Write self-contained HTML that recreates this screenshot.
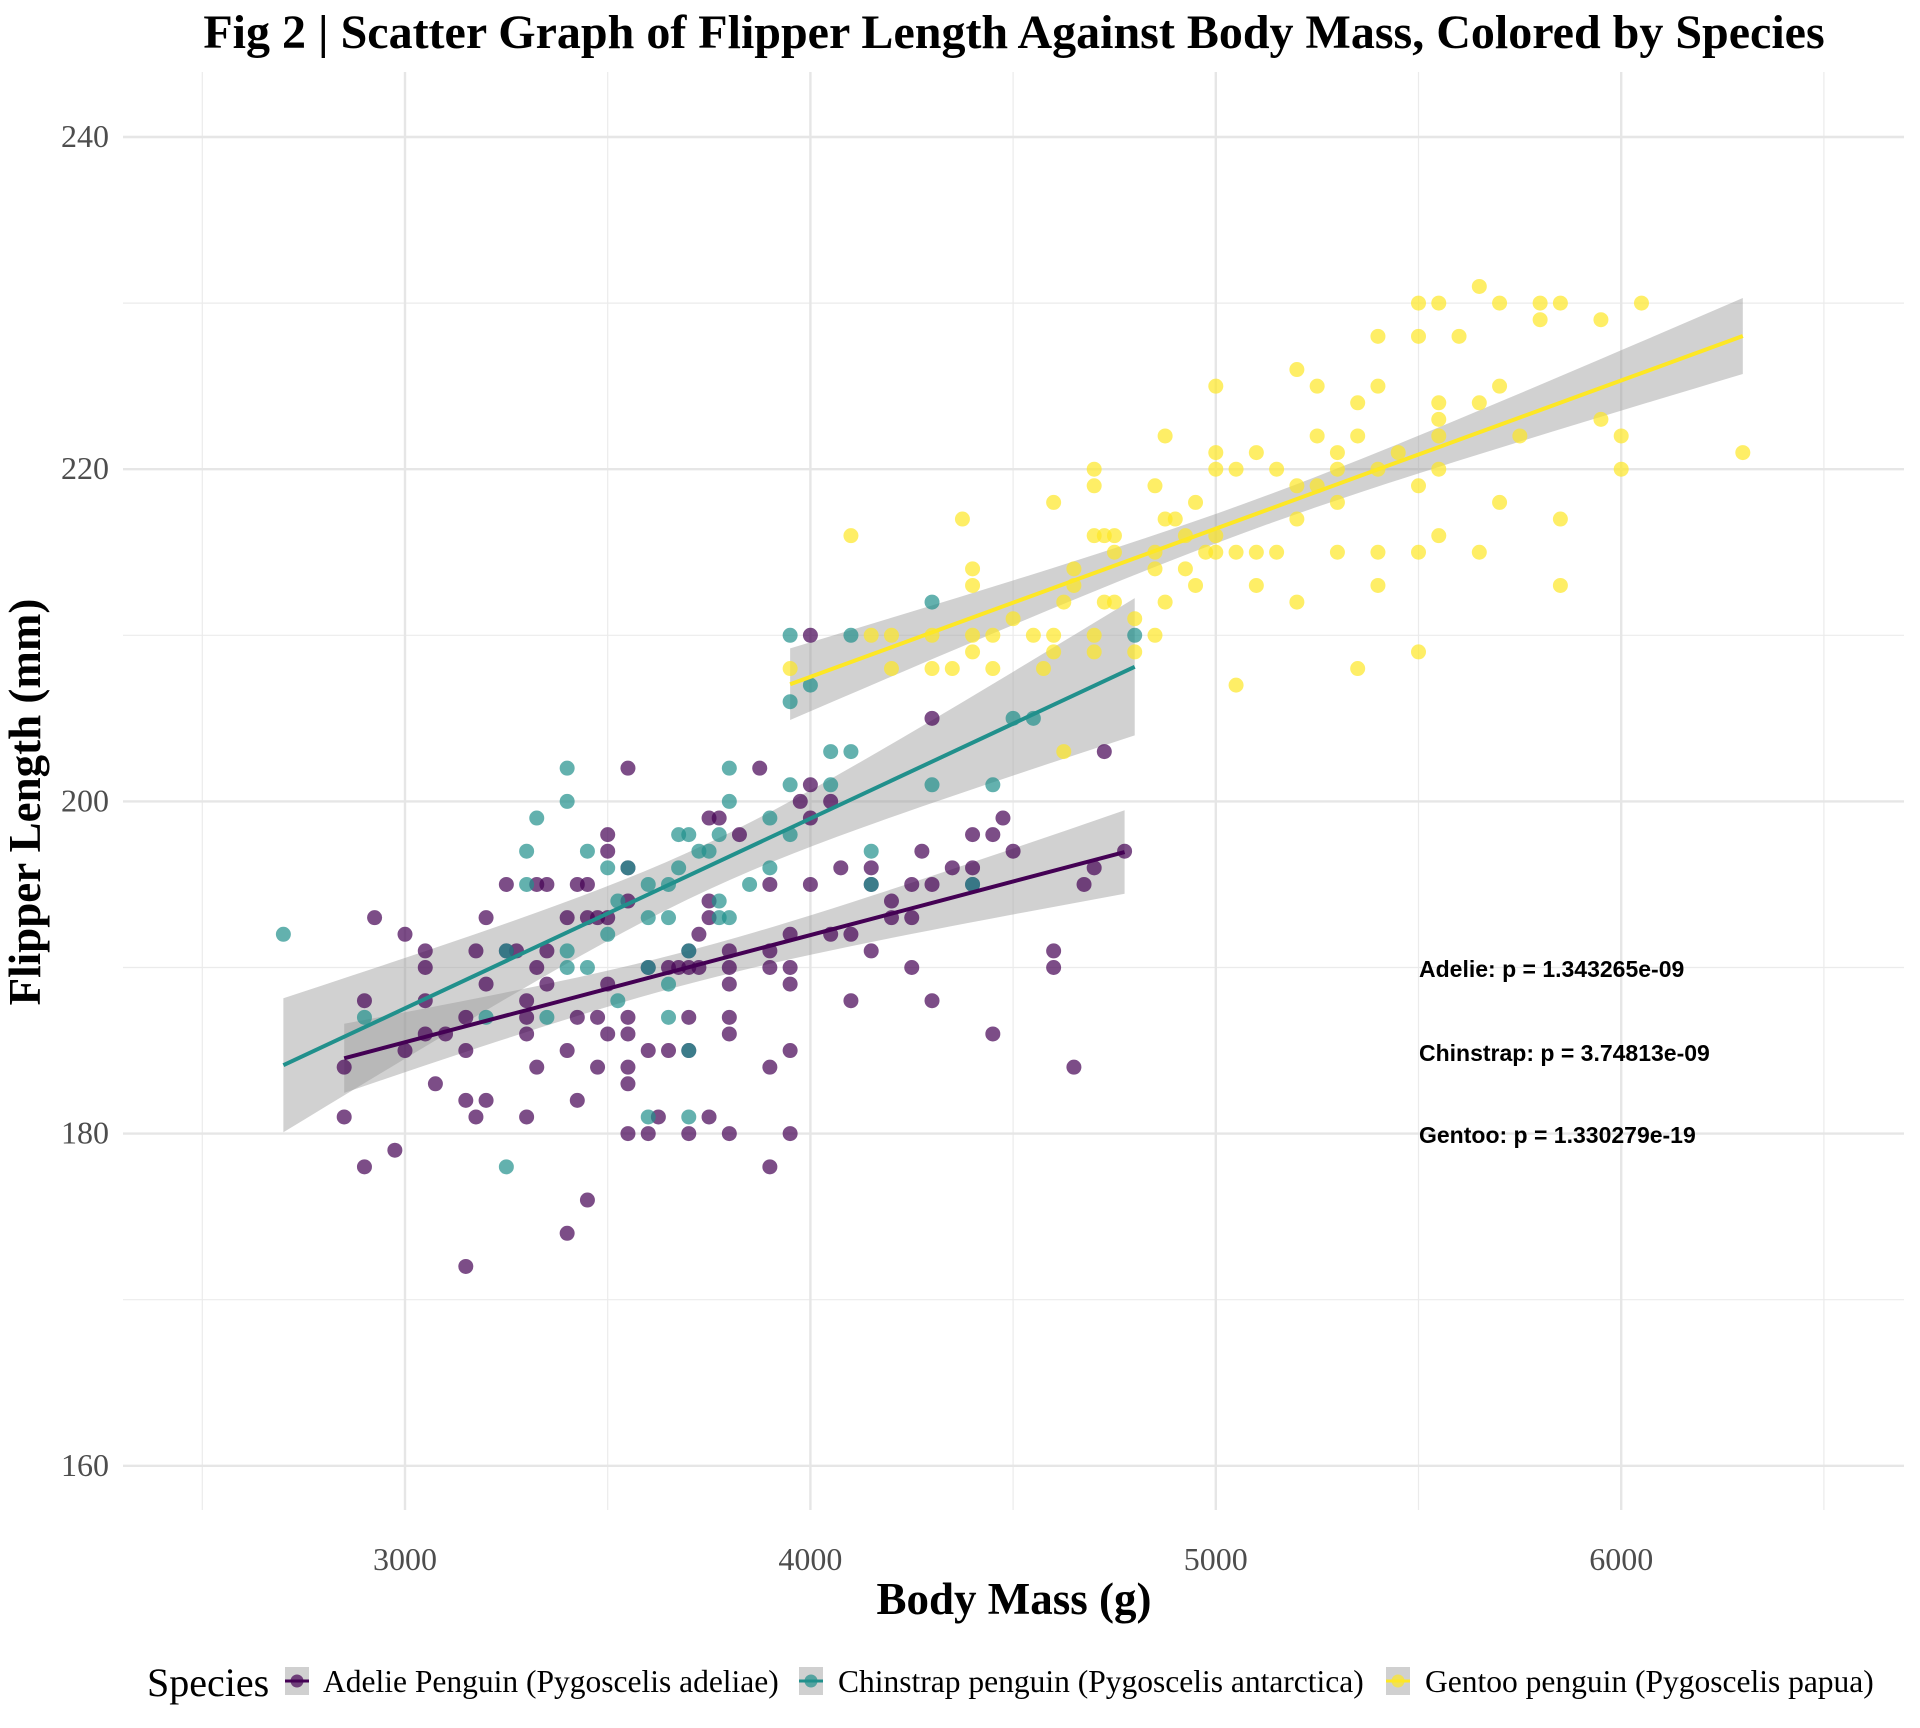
<!DOCTYPE html>
<html><head><meta charset="utf-8"><style>
body{margin:0;background:#fff}
svg{display:block}
</style></head><body>
<svg id="chart" width="1920" height="1728" xmlns="http://www.w3.org/2000/svg">
<text x="1014" y="48" text-anchor="middle" font-family="Liberation Serif, serif" font-weight="bold" font-size="48" fill="#000">Fig 2 | Scatter Graph of Flipper Length Against Body Mass, Colored by Species</text>
<g id="grid"></g>
<g id="bands"></g>
<g id="pts"></g>
<g id="lines"></g>
<g id="ticks"></g>
<text x="1014" y="1614" text-anchor="middle" font-family="Liberation Serif, serif" font-weight="bold" font-size="45" fill="#000">Body Mass (g)</text>
<text transform="translate(40,802) rotate(-90)" text-anchor="middle" font-family="Liberation Serif, serif" font-weight="bold" font-size="45" fill="#000">Flipper Length (mm)</text>
<g font-family="Liberation Sans, sans-serif" font-weight="bold" font-size="23" fill="#000">
<text x="1419" y="977">Adelie: p = 1.343265e-09</text>
<text x="1419" y="1061">Chinstrap: p = 3.74813e-09</text>
<text x="1419" y="1143">Gentoo: p = 1.330279e-19</text>
</g>
<g id="legend" font-family="Liberation Serif, serif">
<text x="147" y="1696" font-size="40" fill="#000">Species</text>
<g>
<rect x="285" y="1667" width="24" height="28" fill="#d0d0d0"/><circle cx="297" cy="1681" r="6.5" fill="#440154" fill-opacity="0.7"/><line x1="285" y1="1681" x2="309" y2="1681" stroke="#440154" stroke-width="3"/>
<text x="323" y="1692" font-size="31.5" fill="#000">Adelie Penguin (Pygoscelis adeliae)</text></g>
<g>
<rect x="799" y="1667" width="24" height="28" fill="#d0d0d0"/><circle cx="811" cy="1681" r="6.5" fill="#21908C" fill-opacity="0.7"/><line x1="799" y1="1681" x2="823" y2="1681" stroke="#21908C" stroke-width="3"/>
<text x="838" y="1692" font-size="31.5" fill="#000">Chinstrap penguin (Pygoscelis antarctica)</text></g>
<g>
<rect x="1386" y="1667" width="24" height="28" fill="#d0d0d0"/><circle cx="1398" cy="1681" r="6.5" fill="#FDE725" fill-opacity="0.7"/><line x1="1386" y1="1681" x2="1410" y2="1681" stroke="#FDE725" stroke-width="3"/>
<text x="1425" y="1692" font-size="31.5" fill="#000">Gentoo penguin (Pygoscelis papua)</text></g>
</g>
</svg>
<script>
const xTicks=[3000,4000,5000,6000];
const xMinor=[2500,3500,4500,5500,6500];
const yTicks=[160,180,200,220,240];
const yMinor=[170,190,210,230];
const adelieMass=[2850,2850,2900,2900,2925,2975,3000,3000,3050,3050,3050,3075,3100,3150,3150,3150,3175,3175,3200,3200,3200,3250,3275,3300,3300,3300,3325,3325,3325,3350,3350,3350,3400,3400,3400,3425,3425,3450,3450,3450,3475,3475,3500,3500,3500,3500,3500,3550,3550,3550,3550,3550,3550,3550,3550,3600,3600,3600,3625,3650,3650,3700,3700,3700,3700,3700,3725,3725,3750,3750,3750,3750,3775,3800,3800,3800,3800,3800,3800,3825,3875,3900,3900,3900,3900,3900,3950,3950,3950,3950,3950,3975,4000,4000,4000,4000,4050,4050,4075,4100,4100,4150,4150,4150,4200,4200,4250,4250,4250,4275,4300,4300,4300,4350,4400,4400,4400,4450,4450,4475,4500,4600,4600,4650,4675,4700,4725,4775,3150,3300,3050,3425,3675,3250,3475];
const adelieFlipper=[184,181,178,188,193,179,192,185,191,190,186,183,186,187,185,182,191,181,193,189,182,195,191,188,186,181,190,184,195,191,195,189,193,185,174,187,182,195,193,176,187,184,198,197,193,189,186,202,196,194,187,186,184,183,180,190,185,180,181,190,185,191,190,187,185,180,192,190,199,194,193,181,199,191,190,189,187,186,180,198,202,195,191,190,184,178,192,190,189,185,180,200,210,201,199,195,200,192,196,192,188,196,195,191,194,193,195,193,190,197,205,195,188,196,198,196,195,198,186,199,197,191,190,184,195,196,203,197,172,187,188,195,190,191,193];
const chinMass=[2700,2900,3200,3250,3250,3300,3300,3325,3350,3400,3400,3400,3400,3450,3450,3500,3500,3525,3525,3550,3600,3600,3600,3650,3650,3650,3650,3675,3675,3700,3700,3700,3700,3725,3750,3775,3775,3800,3800,3800,3850,3900,3900,3950,3950,3950,3950,4000,4050,4050,4100,4100,4150,4150,4300,4300,4400,4450,4500,4550,4800,3775,3600];
const chinFlipper=[192,187,187,191,178,197,195,199,187,202,200,191,190,197,190,196,192,194,188,196,195,193,181,195,193,189,187,198,196,198,191,185,181,197,197,198,194,202,200,193,195,199,196,210,206,201,198,207,203,201,210,203,197,195,212,201,195,201,205,205,210,193,190];
const gentooMass=[3950,4100,4150,4200,4200,4300,4300,4350,4375,4400,4400,4400,4400,4450,4450,4500,4550,4575,4600,4600,4600,4625,4625,4650,4650,4700,4700,4700,4700,4700,4725,4725,4750,4750,4750,4800,4800,4850,4850,4850,4850,4875,4875,4875,4900,4925,4925,4950,4950,4975,5000,5000,5000,5000,5000,5050,5050,5050,5100,5100,5100,5150,5150,5200,5200,5200,5200,5250,5250,5250,5300,5300,5300,5300,5350,5350,5350,5400,5400,5400,5400,5400,5450,5500,5500,5500,5500,5500,5550,5550,5550,5550,5550,5550,5600,5650,5650,5650,5700,5700,5700,5750,5800,5800,5850,5850,5850,5950,5950,6000,6000,6050,6300];
const gentooFlipper=[208,216,210,210,208,210,208,208,217,214,213,210,209,210,208,211,210,208,218,210,209,212,203,214,213,220,219,216,210,209,216,212,216,215,212,211,209,219,215,214,210,222,217,212,217,216,214,218,213,215,225,221,220,216,215,220,215,207,221,215,213,220,215,226,219,217,212,225,222,219,221,220,218,215,224,222,208,228,225,220,215,213,221,230,228,219,215,209,230,224,223,222,220,216,228,231,224,215,230,225,218,222,230,229,230,217,213,229,223,222,220,230,221];

const NS='http://www.w3.org/2000/svg';
const PL=123,PR=1904,PT=72,PB=1510;
function xs(v){return 405+(v-3000)*0.4054;}
function ys(v){return 137+(240-v)*16.61;}
function mk(tag,attrs,parent){const e=document.createElementNS(NS,tag);for(const k in attrs)e.setAttribute(k,attrs[k]);parent.appendChild(e);return e;}
const grid=document.getElementById('grid');
xMinor.forEach(v=>{const l=mk('line',{x1:xs(v),x2:xs(v),y1:PT,y2:PB,stroke:'#ebebeb','stroke-width':1.2},grid);

});
yMinor.forEach(v=>{const l=mk('line',{x1:PL,x2:PR,y1:ys(v),y2:ys(v),stroke:'#ebebeb','stroke-width':1.2},grid);

});
xTicks.forEach(v=>{const l=mk('line',{x1:xs(v),x2:xs(v),y1:PT,y2:PB,stroke:'#e6e6e6','stroke-width':2.4},grid);

});
yTicks.forEach(v=>{const l=mk('line',{x1:PL,x2:PR,y1:ys(v),y2:ys(v),stroke:'#e6e6e6','stroke-width':2.4},grid);

});
const ticks=document.getElementById('ticks');
xTicks.forEach(v=>{const t=mk('text',{x:xs(v),y:1570,'text-anchor':'middle','font-family':'Liberation Serif, serif','font-size':32,fill:'#4d4d4d'},ticks);t.textContent=v;

});
yTicks.forEach(v=>{const t=mk('text',{x:109,y:ys(v)+10,'text-anchor':'end','font-family':'Liberation Serif, serif','font-size':32,fill:'#4d4d4d'},ticks);t.textContent=v;

});
const series=[['adelie',adelieMass,adelieFlipper,'#440154'],['chinstrap',chinMass,chinFlipper,'#21908C'],['gentoo',gentooMass,gentooFlipper,'#FDE725']];
const pts=document.getElementById('pts'),bands=document.getElementById('bands'),lines=document.getElementById('lines');
series.forEach(([nm,X,Y,col])=>{
  X.forEach((x,i)=>{const c=mk('circle',{cx:xs(x),cy:ys(Y[i]),r:7.5,fill:col,'fill-opacity':0.7},pts);
  
  });
  const n=X.length,xm=X.reduce((a,b)=>a+b)/n,ym=Y.reduce((a,b)=>a+b)/n;
  let sxx=0,sxy=0;X.forEach((x,i)=>{sxx+=(x-xm)**2;sxy+=(x-xm)*(Y[i]-ym);});
  const b=sxy/sxx,a=ym-b*xm;let sse=0;X.forEach((x,i)=>{sse+=(Y[i]-a-b*x)**2;});
  const s=Math.sqrt(sse/(n-2));
  const x0=Math.min(...X),x1=Math.max(...X);const up=[],lo=[];
  for(let k=0;k<=40;k++){const x=x0+(x1-x0)*k/40,f=a+b*x,se=1.97*s*Math.sqrt(1/n+(x-xm)**2/sxx);up.push(xs(x)+','+ys(f+se));lo.unshift(xs(x)+','+ys(f-se));}
  const p=mk('polygon',{points:up.concat(lo).join(' '),fill:'#999','fill-opacity':0.45},bands);
  
  
  const l=mk('line',{x1:xs(x0),y1:ys(a+b*x0),x2:xs(x1),y2:ys(a+b*x1),stroke:col,'stroke-width':4},lines);
  
  
});
</script>
</body></html>
